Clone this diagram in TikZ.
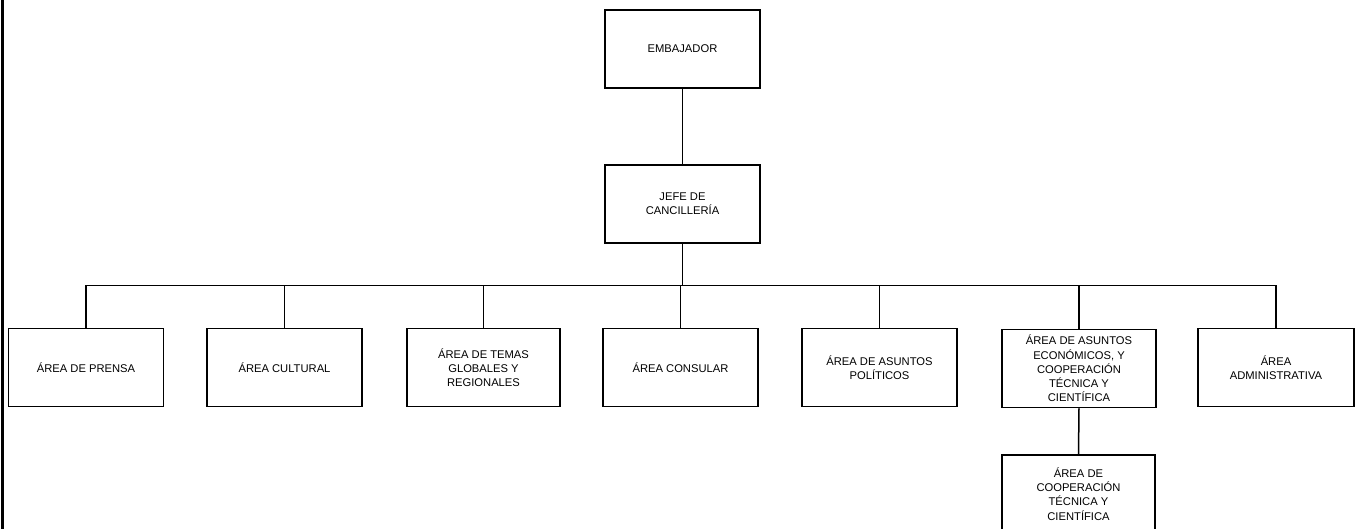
\documentclass[tikz,border=0pt]{standalone}
\usepackage{fontspec}
\setmainfont{Liberation Sans}
\begin{document}
\begin{tikzpicture}[x=1pt,y=-1pt,
  orgbox/.style={draw=black, line width=1.5pt, fill=white, minimum width=155pt, minimum height=78pt,
    align=center, inner sep=2pt, font=\fontsize{11.2}{14.3}\selectfont},
  conn/.style={draw=black, line width=1.5pt}]
\useasboundingbox[fill=white] (0,0) rectangle (1363,529);
\begin{scope}
\clip (0,0) rectangle (1363,529);
\fill[black] (0.5,0) rectangle (4,529);
\node[orgbox] (emb) at (682.5,49) {EMBAJADOR};
\node[orgbox] (jefe) at (682.5,204) {JEFE DE\\CANCILLERÍA};
\coordinate (bus) at (0,285.5);
\node[orgbox] (prensa) at (86,367.5) {ÁREA DE PRENSA};
\node[orgbox] (cultural) at (284.5,367.5) {ÁREA CULTURAL};
\node[orgbox, minimum width=153pt] (temas) at (483.5,367.5) {ÁREA DE TEMAS\\GLOBALES Y\\REGIONALES};
\node[orgbox] (consular) at (680.5,367.5) {ÁREA CONSULAR};
\node[orgbox] (politicos) at (879.5,367.5) {ÁREA DE ASUNTOS\\POLÍTICOS};
\node[orgbox, minimum width=154pt] (econ) at (1079,368.5) {ÁREA DE ASUNTOS\\ECONÓMICOS, Y\\COOPERACIÓN\\TÉCNICA Y\\CIENTÍFICA};
\node[orgbox, minimum width=156pt] (admin) at (1276,367.5) {ÁREA\\ADMINISTRATIVA};
\node[orgbox, minimum width=153pt] (sub) at (1078.5,494) {ÁREA DE\\COOPERACIÓN\\TÉCNICA Y\\CIENTÍFICA};
\draw[conn] (emb.south) -- (jefe.north);
\draw[conn] (jefe.south) -- (jefe.south |- bus);
\draw[conn] (prensa.north) -- (prensa.north |- bus) -- (admin.north |- bus) -- (admin.north);
\foreach \n in {cultural,temas,consular,politicos,econ}
  \draw[conn] (\n.north) -- (\n.north |- bus);
\draw[conn] (econ.south) -- (sub.north);
\end{scope}
\end{tikzpicture}
\end{document}
